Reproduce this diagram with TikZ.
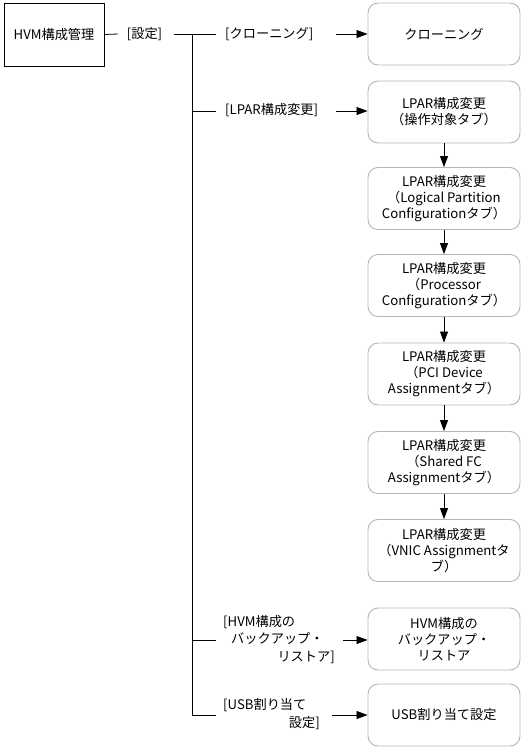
\documentclass[tikz,border=0pt]{standalone}
\usepackage{fontspec}
\setmainfont{Noto Sans CJK JP}
\usetikzlibrary{arrows.meta}
\definecolor{boxgray}{HTML}{B4B4B4}
\begin{document}
\begin{tikzpicture}[x=1pt,y=-1pt,
  every node/.style={font=\fontsize{13.2}{16}\selectfont, inner sep=0pt},
  mainbox/.style={draw=black, line width=0.9pt, minimum width=100pt, minimum height=63pt},
  rbox/.style={draw=boxgray, line width=0.9pt, rounded corners=10pt, minimum width=152pt, minimum height=62pt, align=center},
  conn/.style={line width=0.8pt},
  arr/.style={line width=0.8pt, -{Triangle[length=11pt,width=8pt]}}
]
\useasboundingbox (0,0) rectangle (523,749);

% main box
\node[mainbox] (hvm) at (54,34.5) {HVM構成管理};
\node (settei) at (144.5,34) {[設定]};

% target boxes
\node[rbox] (b1) at (444,34) {クローニング};
\node[rbox] (b2) at (444,112) {LPAR構成変更\\（操作対象タブ）};
\node[rbox] (b3) at (444,198.5) {LPAR構成変更\\（Logical Partition\\Configurationタブ）};
\node[rbox] (b4) at (444,285.5) {LPAR構成変更\\（Processor\\Configurationタブ）};
\node[rbox] (b5) at (444,374) {LPAR構成変更\\（PCI Device\\Assignmentタブ）};
\node[rbox] (b6) at (444,462.5) {LPAR構成変更\\（Shared FC\\Assignmentタブ）};
\node[rbox] (b7) at (444,550.5) {LPAR構成変更\\（VNIC Assignmentタ\\ブ）};
\node[rbox] (b8) at (444,639) {HVM構成の\\バックアップ・\\リストア};
\node[rbox] (b9) at (444,715) {USB割り当て設定};

% branch labels
\node[anchor=west] (lclon) at (225,34) {[クローニング]};
\node[anchor=west] (llpar) at (225,110) {[LPAR構成変更]};
\node[anchor=west] (lhvma) at (223,622) {[HVM構成の};
\node[anchor=west] (lhvmb) at (231,639) {バックアップ・};
\node[anchor=east] (lhvmc) at (335,657) {リストア]};
\node[anchor=west] (lusba) at (223,705) {[USB割り当て};
\node[anchor=east] (lusbb) at (320,723) {設定]};

% junction coordinates
\coordinate (jc) at (192,34);
\coordinate (jl) at (192,111);
\coordinate (jh) at (192,640);
\coordinate (ju) at (192,715);
\coordinate (ec) at (216,34);
\coordinate (el) at (216,111);
\coordinate (eh) at (216,640);
\coordinate (eu) at (216,715);
\coordinate (sa) at (118,34);
\coordinate (sb) at (174,34);
\coordinate (ac) at (336,34);
\coordinate (al) at (336,111);
\coordinate (ah) at (343,640);
\coordinate (au) at (332,715);

% connectors
\draw[conn] (hvm.east) -- (sa);
\draw[conn] (sb) -- (ec);
\draw[conn] (jc) -- (ju) -- (eu);
\draw[conn] (jl) -- (el);
\draw[conn] (jh) -- (eh);

\draw[arr] (ac) -- (b1.west);
\draw[arr] (al) -- (al -| b2.west);
\draw[arr] (ah) -- (ah -| b8.west);
\draw[arr] (au) -- (au -| b9.west);

\draw[arr] (b2) -- (b3);
\draw[arr] (b3) -- (b4);
\draw[arr] (b4) -- (b5);
\draw[arr] (b5) -- (b6);
\draw[arr] (b6) -- (b7);
\end{tikzpicture}
\end{document}
